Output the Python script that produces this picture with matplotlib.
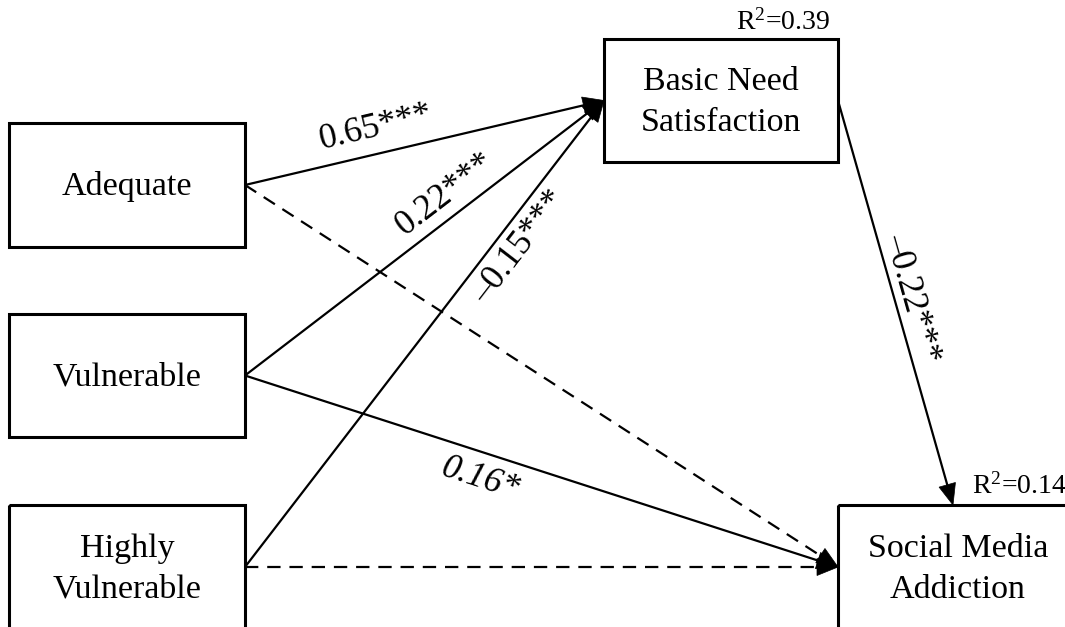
import numpy as np
import matplotlib
matplotlib.use("Agg")
import matplotlib.pyplot as plt
from matplotlib.patches import Rectangle, Polygon

matplotlib.rcParams["font.family"] = ["Liberation Serif", "DejaVu Serif"]
matplotlib.rcParams["mathtext.fontset"] = "custom"
matplotlib.rcParams["mathtext.rm"] = "Liberation Serif"
matplotlib.rcParams["mathtext.it"] = "Liberation Serif:italic"

# nodes of the path model
node_names = ["adequate", "vulnerable", "highly", "bns", "sma"]
node_labels = ["Adequate", "Vulnerable", "Highly\nVulnerable", "Basic Need\nSatisfaction", "Social Media\nAddiction"]
# box layout in pixels: x, y(top), width, height
node_boxes = [(9, 123, 236, 124), (9, 314, 236, 123), (9, 505, 236, 124),
              (604, 39, 234, 123), (838, 505, 240, 124)]
r2_nodes = ["bns", "sma"]
r2_values = ["0.39", "0.14"]

# paths: source, target, coefficient, significant (solid) or not (dashed)
edge_src = ["adequate", "vulnerable", "highly", "adequate", "vulnerable", "highly", "bns"]
edge_dst = ["bns", "bns", "bns", "sma", "sma", "sma", "sma"]
edge_coef = ["0.65***", "0.22***", "\u20130.15***", None, "0.16*", None, "\u20130.22***"]
edge_solid = [True, True, True, False, True, False, True]
edge_italic = [False, False, False, False, True, False, False]
# label placement: fraction along the path and perpendicular offset (px)
label_t = [0.38, 0.595, 0.715, 0, 0.41, 0, 0.50]
label_d = [-26, -22, 23, 0, 26, 0, -17]

boxes = dict(zip(node_names, node_boxes))


def right_mid(n):
    x, y, w, h = boxes[n]
    return np.array([x + w, y + h / 2.0])


def left_mid(n):
    x, y, w, h = boxes[n]
    return np.array([x, y + h / 2.0])


fig = plt.figure(figsize=(10.65, 6.27), dpi=100)
ax = fig.add_axes([0, 0, 1, 1])
ax.set_xlim(0, 1065)
ax.set_ylim(627, 0)
ax.axis("off")

for n, lab in zip(node_names, node_labels):
    x, y, w, h = boxes[n]
    ax.add_patch(Rectangle((x, y), w, h, fill=False, lw=2.2, ec="k", zorder=3))
    ax.text(x + w / 2.0, y + h / 2.0 + 2, lab, ha="center", va="center", fontsize=24.5,
            linespacing=1.45, zorder=4)

# R squared above the outcome boxes
for n, v in zip(r2_nodes, r2_values):
    x, y, w, h = boxes[n]
    if n == "bns":
        ax.text(x + w - 8, y - 3, "R$^{2}$=" + v, ha="right", va="bottom", fontsize=20)
    else:
        ax.text(x + 134, y - 5, "R$^{2}$=" + v, ha="left", va="bottom", fontsize=20)

head_len, head_w = 21, 17
for s, d, c, solid, it, t, off in zip(edge_src, edge_dst, edge_coef, edge_solid,
                                      edge_italic, label_t, label_d):
    p0 = right_mid(s)
    if s == "bns":
        x, y, w, h = boxes[d]
        p1 = np.array([x + 115, y])
    else:
        p1 = left_mid(d)
    u = (p1 - p0) / np.linalg.norm(p1 - p0)
    nrm = np.array([-u[1], u[0]])
    base = p1 - head_len * u
    ls = "-" if solid else (0, (6, 4))
    ax.plot([p0[0], base[0] + 2 * u[0]], [p0[1], base[1] + 2 * u[1]], color="k", lw=1.6,
            linestyle=ls, solid_capstyle="butt", zorder=2)
    tri = [p1, base + nrm * head_w / 2.0, base - nrm * head_w / 2.0]
    ax.add_patch(Polygon(tri, closed=True, fc="k", ec="k", lw=0.5, zorder=2))
    if c is not None:
        pos = p0 + t * (p1 - p0) + off * nrm
        ang = -np.degrees(np.arctan2(u[1], u[0]))
        ax.text(pos[0], pos[1], c, ha="center", va="center", rotation=ang,
                rotation_mode="anchor", fontsize=25.5, style="italic" if it else "normal")

plt.savefig("out.png", dpi=100)
